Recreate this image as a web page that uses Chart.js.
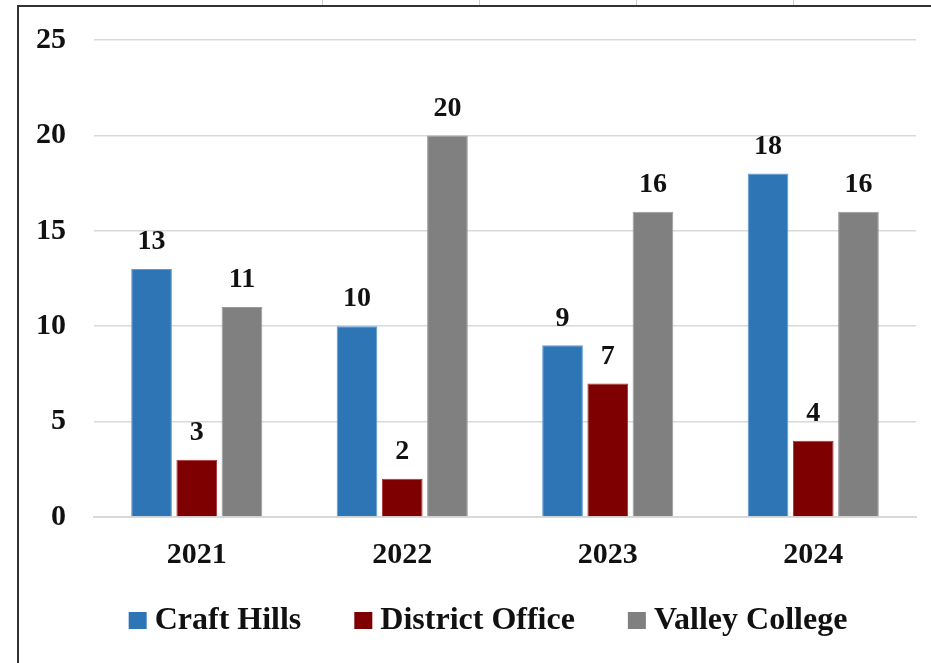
<!DOCTYPE html>
<html>
<head>
<meta charset="utf-8">
<script src="https://cdn.jsdelivr.net/npm/chart.js@4"></script>
<style>
  html, body { margin: 0; padding: 0; background: #fff; }
  #wrap { position: relative; width: 931px; height: 663px; overflow: hidden; }
  #frame { position: absolute; left: 17px; top: 5px; right: -4px; bottom: -4px;
           border-left: 2px solid #333; border-top: 2px solid #333; }
  .cell { position: absolute; top: 0; width: 1px; height: 5px; background: #ccc; }
  canvas { position: absolute; left: 0; top: 0; }
</style>
</head>
<body>
<div id="wrap">
  <div class="cell" style="left:322px"></div>
  <div class="cell" style="left:479px"></div>
  <div class="cell" style="left:636px"></div>
  <div class="cell" style="left:793px"></div>
  <div id="frame"></div>
  <canvas id="chart" width="931" height="663"></canvas>
</div>
<script>
const years = ['2021', '2022', '2023', '2024'];
const craftHills = [13, 10, 9, 18];
const districtOffice = [3, 2, 7, 4];
const valleyCollege = [11, 20, 16, 16];
const yTicks = [0, 5, 10, 15, 20, 25];

const serif = "'Liberation Serif', 'Times New Roman', serif";

// draws the value above each bar
const barValues = {
  id: 'barValues',
  afterDatasetsDraw(chart) {
    const ctx = chart.ctx;
    ctx.save();
    ctx.font = 'bold 28px ' + serif;
    ctx.fillStyle = '#111';
    ctx.textAlign = 'center';
    ctx.textBaseline = 'bottom';
    chart.data.datasets.forEach((ds, i) => {
      chart.getDatasetMeta(i).data.forEach((bar, j) => {
        ctx.fillText(ds.data[j], bar.x, bar.y - 13);
      });
    });
    ctx.restore();
  }
};

// legend row under the axis, spaced like the original
const bottomLegend = {
  id: 'bottomLegend',
  afterDraw(chart) {
    const ctx = chart.ctx;
    const box = 18, gap = 8, spacing = 53, baseline = 629, centre = 488;
    ctx.save();
    ctx.font = 'bold 32px ' + serif;
    const items = chart.data.datasets.map(ds => ({
      text: ds.label, color: ds.backgroundColor, w: ctx.measureText(ds.label).width
    }));
    let total = items.reduce((s, it) => s + box + gap + it.w, 0) + spacing * (items.length - 1);
    let x = centre - total / 2;
    items.forEach(it => {
      ctx.fillStyle = it.color;
      ctx.fillRect(x, baseline - 17, box, 17);
      ctx.fillStyle = '#111';
      ctx.textBaseline = 'alphabetic';
      ctx.fillText(it.text, x + box + gap, baseline);
      x += box + gap + it.w + spacing;
    });
    ctx.restore();
  }
};

const chart = new Chart(document.getElementById('chart').getContext('2d'), {
  type: 'bar',
  data: {
    labels: years,
    datasets: [
      { label: 'Craft Hills', data: craftHills, backgroundColor: '#2E75B6', borderColor: '#5B9BD5', borderWidth: 1 },
      { label: 'District Office', data: districtOffice, backgroundColor: '#7F0000', borderColor: '#A33', borderWidth: 1 },
      { label: 'Valley College', data: valleyCollege, backgroundColor: '#808080', borderColor: '#999', borderWidth: 1 }
    ]
  },
  options: {
    responsive: false,
    animation: false,
    devicePixelRatio: 1,
    layout: { padding: { left: 8, right: 15, top: 12, bottom: 78 } },
    datasets: { bar: { barPercentage: 0.9, categoryPercentage: 0.66 } },
    plugins: {
      legend: { display: false },
      tooltip: { enabled: false }
    },
    scales: {
      x: {
        grid: { display: false },
        border: { color: '#d9d9d9', width: 2 },
        ticks: { font: { family: serif, size: 30, weight: 'bold' }, color: '#111', padding: 12 }
      },
      y: {
        min: 0,
        max: 25,
        afterBuildTicks(axis) { axis.ticks = yTicks.map(v => ({ value: v })); },
        grid: { color: '#d9d9d9', lineWidth: 1.5, drawTicks: false },
        border: { display: false },
        ticks: { font: { family: serif, size: 30, weight: 'bold', lineHeight: 0.8 }, color: '#111', padding: 28 }
      }
    }
  },
  plugins: [barValues, bottomLegend]
});
</script>
</body>
</html>
